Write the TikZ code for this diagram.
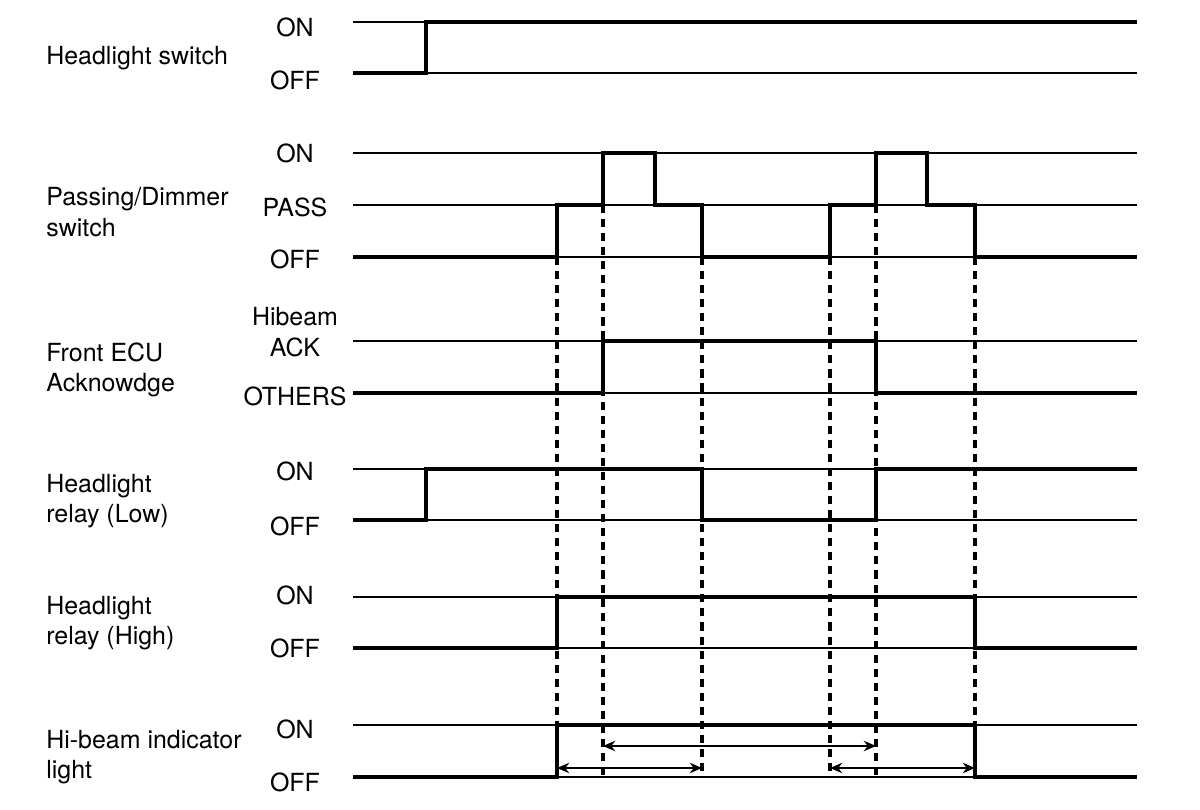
\documentclass[tikz,border=0pt]{standalone}
\usepackage{fontspec}
\setmainfont{TeX Gyre Heros}
\usetikzlibrary{arrows.meta}

\begin{document}
\begin{tikzpicture}[x=0.02cm, y=-0.02cm,
    every node/.style={font=\fontsize{14.2}{17.5}\selectfont, inner sep=0pt},
    lvl/.style={line width=0.6pt},
    sig/.style={line width=1.8pt, line join=miter},
    guide/.style={line width=2pt, dash pattern=on 4.6pt off 3.4pt},
    span/.style={{Stealth[length=7pt,width=6pt]}-{Stealth[length=7pt,width=6pt]}, line width=0.6pt},
    signame/.style={anchor=west, align=left},
    state/.style={anchor=center, align=center},
  ]
    \useasboundingbox (0,0) rectangle (1200,810);

    % signal names
    \node[signame] (hsw) at (46,58) {Headlight switch};
    \node[signame] (pds) at (46,212) {Passing/Dimmer\\switch};
    \node[signame] (ecu) at (46,370) {Front ECU\\Acknowdge};
    \node[signame] (rlo) at (46,501) {Headlight\\relay (Low)};
    \node[signame] (rhi) at (46,623) {Headlight\\relay (High)};
    \node[signame] (ind) at (46,757) {Hi-beam indicator\\light};

    % state names
    \node[state] (hswon)  at (295,27)  {ON};
    \node[state] (hswoff) at (295,80)  {OFF};
    \node[state] (pdson)  at (295,153) {ON};
    \node[state] (pdspass) at (295,207) {PASS};
    \node[state] (pdsoff) at (295,259) {OFF};
    \node[state] (ecuack) at (295,332) {Hibeam\\ACK};
    \node[state] (ecuoth) at (295,396) {OTHERS};
    \node[state] (rloon)  at (295,471) {ON};
    \node[state] (rlooff) at (295,526) {OFF};
    \node[state] (rhion)  at (295,595) {ON};
    \node[state] (rhioff) at (295,648) {OFF};
    \node[state] (indon)  at (295,729) {ON};
    \node[state] (indoff) at (295,782) {OFF};

    % level lines
    \foreach \y in {22,73,153,205,257,341,393,469,520,597,648,725,777}
      \draw[lvl] (353,\y) -- (1137,\y);

    % signals
    \draw[sig] (353,73) -| (426,22) -- (1137,22);
    \draw[sig] (353,257) -| (557,205) -| (603,153) -| (655,205) -| (702,257)
               -| (830,205) -| (876,153) -| (927,205) -| (975,257) -- (1137,257);
    \draw[sig] (353,393) -| (603,341) -| (876,393) -- (1137,393);
    \draw[sig] (353,520) -| (426,469) -| (702,520) -| (876,469) -- (1137,469);
    \draw[sig] (353,648) -| (557,597) -| (975,648) -- (1137,648);
    \draw[sig] (353,777) -| (557,725) -| (975,777) -- (1137,777);

    % timing guides
    \foreach \x/\y in {557/257,603/205,702/257,830/257,876/205,975/257}
      \draw[guide] (\x,\y) -- (\x,777);

    % spans
    \coordinate (a1) at (603,746);
    \coordinate (a2) at (876,746);
    \coordinate (b1) at (557,768);
    \coordinate (b2) at (702,768);
    \coordinate (c1) at (830,768);
    \coordinate (c2) at (975,768);
    \draw[span] (a1) -- (a2);
    \draw[span] (b1) -- (b2);
    \draw[span] (c1) -- (c2);
  \end{tikzpicture}
\end{document}
